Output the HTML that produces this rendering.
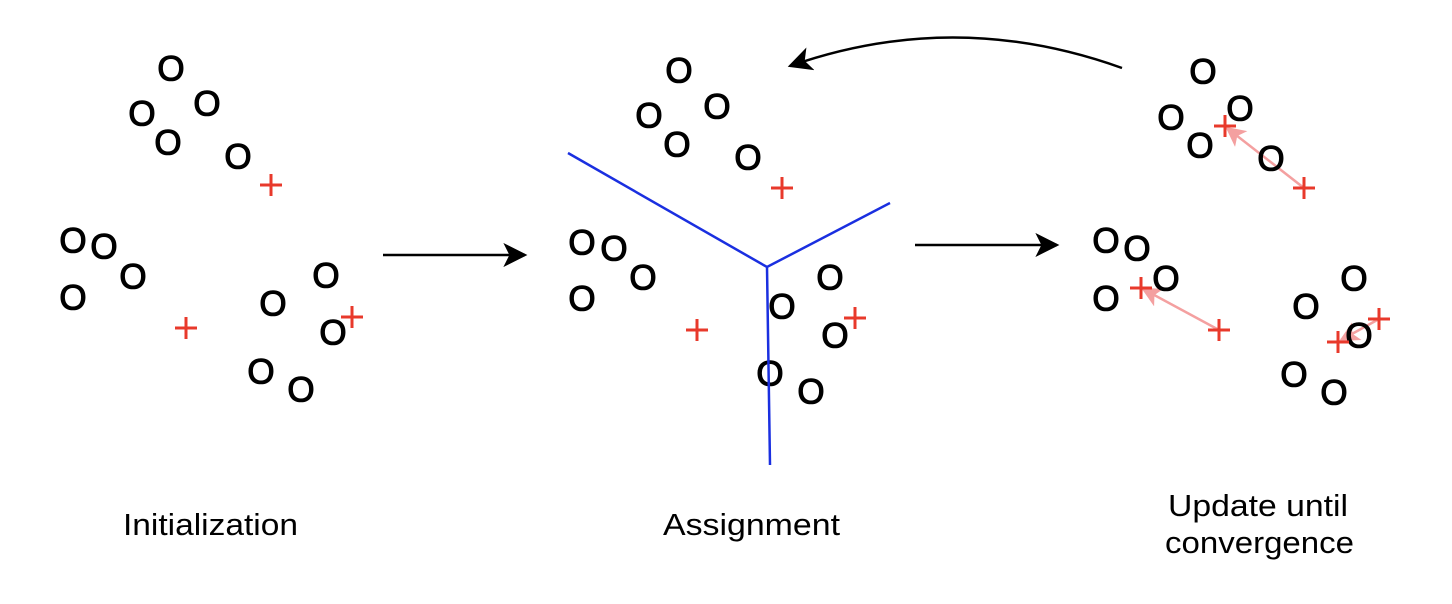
<!DOCTYPE html>
<html><head><style>
html,body{margin:0;padding:0;background:#fff;}
svg{display:block;}
.o{font-family:"Liberation Sans",sans-serif;font-size:35px;fill:#000;stroke:#000;stroke-width:1.1px;text-anchor:middle;dominant-baseline:central;}
.l{font-family:"Liberation Sans",sans-serif;font-size:31px;fill:#000;}
</style></head><body>
<svg width="1452" height="604" viewBox="0 0 1452 604" xmlns="http://www.w3.org/2000/svg">
<defs>
<marker id="ak" viewBox="0 0 10 10" markerWidth="24" markerHeight="24" refX="9" refY="5" orient="auto" markerUnits="userSpaceOnUse">
<path d="M0,0 L10,5 L0,10 L2.5,5 Z" fill="#000"/></marker>
<marker id="ap" viewBox="0 0 10 10" markerWidth="20" markerHeight="20" refX="9" refY="5" orient="auto" markerUnits="userSpaceOnUse">
<path d="M0,0 L10,5 L0,10 L2.5,5 Z" fill="#f4a0a0"/></marker>
<g id="p"><path d="M-11,0 H11 M0,-11 V11" stroke="#e8392b" stroke-width="3"/></g>
</defs>

<!-- Panel 1 -->
<text class="o" x="171" y="69">O</text><text class="o" x="142" y="114">O</text><text class="o" x="207" y="104">O</text><text class="o" x="168" y="143">O</text><text class="o" x="238" y="157">O</text>
<text class="o" x="73" y="241">O</text><text class="o" x="104" y="247">O</text><text class="o" x="133" y="277">O</text><text class="o" x="73" y="298">O</text>
<text class="o" x="326" y="276">O</text><text class="o" x="273" y="304">O</text><text class="o" x="333" y="333">O</text><text class="o" x="261" y="372">O</text><text class="o" x="301" y="390">O</text>
<use href="#p" x="271" y="185"/><use href="#p" x="186" y="328"/><use href="#p" x="352" y="317"/>

<line x1="383" y1="255" x2="525" y2="255" stroke="#000" stroke-width="2.5" marker-end="url(#ak)"/>

<!-- Panel 2 -->
<text class="o" x="679" y="71">O</text><text class="o" x="649" y="116">O</text><text class="o" x="717" y="107">O</text><text class="o" x="677" y="145">O</text><text class="o" x="748" y="158">O</text>
<text class="o" x="582" y="243">O</text><text class="o" x="614" y="249">O</text><text class="o" x="643" y="278">O</text><text class="o" x="582" y="299">O</text>
<text class="o" x="830" y="278">O</text><text class="o" x="782" y="307">O</text><text class="o" x="835" y="336">O</text><text class="o" x="770" y="374">O</text><text class="o" x="811" y="392">O</text>
<use href="#p" x="782" y="188"/><use href="#p" x="697" y="330"/><use href="#p" x="855" y="318"/>
<path d="M568,153 L767,267 L890,203 M767,267 L770,465" stroke="#1a2fe0" stroke-width="2.5" fill="none"/>

<line x1="915" y1="245" x2="1057" y2="245" stroke="#000" stroke-width="2.5" marker-end="url(#ak)"/>
<path d="M1122,68 Q955,8 790,66" stroke="#000" stroke-width="2.5" fill="none" marker-end="url(#ak)"/>

<!-- Panel 3 -->
<line x1="1304" y1="188" x2="1227" y2="128" stroke="#f4a0a0" stroke-width="2.5" marker-end="url(#ap)"/>
<line x1="1219" y1="330" x2="1143" y2="289" stroke="#f4a0a0" stroke-width="2.5" marker-end="url(#ap)"/>
<line x1="1379" y1="319" x2="1341" y2="340" stroke="#f4a0a0" stroke-width="2.5" marker-end="url(#ap)"/>
<text class="o" x="1203" y="72">O</text><text class="o" x="1171" y="118">O</text><text class="o" x="1240" y="109">O</text><text class="o" x="1200" y="146">O</text><text class="o" x="1271" y="159">O</text>
<text class="o" x="1106" y="241">O</text><text class="o" x="1137" y="249">O</text><text class="o" x="1166" y="279">O</text><text class="o" x="1106" y="299">O</text>
<text class="o" x="1354" y="279">O</text><text class="o" x="1306" y="307">O</text><text class="o" x="1359" y="336">O</text><text class="o" x="1294" y="375">O</text><text class="o" x="1334" y="393">O</text>
<use href="#p" x="1304" y="188"/><use href="#p" x="1225" y="126"/>
<use href="#p" x="1219" y="330"/><use href="#p" x="1141" y="288"/>
<use href="#p" x="1379" y="319"/><use href="#p" x="1338" y="342"/>

<!-- Labels -->
<text class="l" x="123" y="535" textLength="175" lengthAdjust="spacingAndGlyphs">Initialization</text>
<text class="l" x="663" y="535" textLength="177" lengthAdjust="spacingAndGlyphs">Assignment</text>
<text class="l" x="1168" y="516" textLength="180" lengthAdjust="spacingAndGlyphs">Update until</text>
<text class="l" x="1165" y="553" textLength="189" lengthAdjust="spacingAndGlyphs">convergence</text>
</svg>
</body></html>
